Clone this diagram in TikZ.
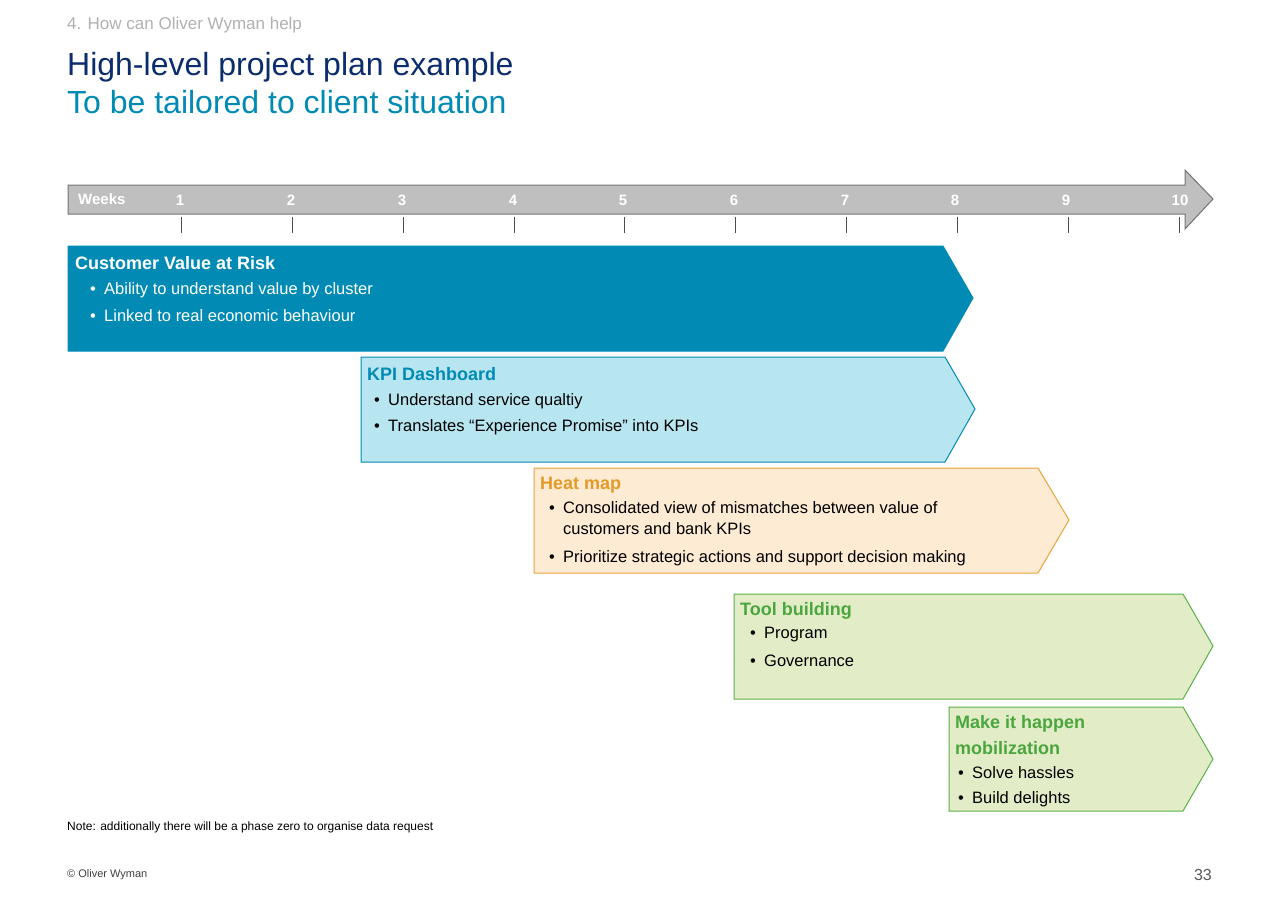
\documentclass[tikz,border=0pt]{standalone}
\usepackage{fontspec}
\setmainfont{Liberation Sans}
\begin{document}
\begin{tikzpicture}[x=1pt,y=-1pt,
  phase/.style={line width=1pt},
  ttl/.style={anchor=west,inner sep=0pt,font=\fontsize{18}{21}\selectfont\bfseries},
  bul/.style={anchor=west,inner sep=0pt,font=\fontsize{16.5}{21}\selectfont,align=left},
  wk/.style={anchor=center,inner sep=0pt,text=white,font=\fontsize{15}{17}\selectfont\bfseries},
  tick/.style={line width=0.8pt,draw=black!70}]
\definecolor{cvar}{RGB}{0,138,180}
\definecolor{kpif}{RGB}{183,230,240}
\definecolor{heatf}{RGB}{253,235,211}
\definecolor{heatd}{RGB}{232,163,58}
\definecolor{heatt}{RGB}{226,154,40}
\definecolor{toolf}{RGB}{226,237,199}
\definecolor{toold}{RGB}{91,176,74}
\definecolor{toolt}{RGB}{76,166,63}
\definecolor{dblue}{RGB}{11,45,110}
\definecolor{lgray}{RGB}{176,176,176}
\useasboundingbox (0,0) rectangle (1280,905);
% header
\node[anchor=west,inner sep=0pt,text=lgray,font=\fontsize{17}{20}\selectfont] (hdr) at (67,25) {4. How can Oliver Wyman help};
\node[anchor=west,inner sep=0pt,text=dblue,font=\fontsize{32}{36}\selectfont] (title) at (67,67) {High-level project plan example};
\node[anchor=west,inner sep=0pt,text=cvar,font=\fontsize{32}{36}\selectfont] (sub) at (67,102) {To be tailored to client situation};
% timeline
\draw[fill=black!25,draw=black!55,line width=1pt] (68,185) -- (1185,185) -- (1185,170) -- (1213,199) -- (1185,229) -- (1185,214) -- (68,214) -- cycle;
\node[wk,anchor=west] (weeks) at (78,199) {Weeks};
\foreach \n/\x/\t in {1/180/181,2/291/292,3/402/403,4/513/514,5/623/624,6/734/735,7/845/846,8/955/957,9/1066/1068,10/1180/1179}{
  \node[wk] (w\n) at (\x,200) {\n};
  \draw[tick] (\t,217) -- (\t,233);
}
% phase 1
\draw[phase,fill=cvar,draw=cvar] (68,246) -- (943,246) -- (973,298) -- (943,351) -- (68,351) -- cycle;
\node[ttl,text=white] (p1) at (75,263) {Customer Value at Risk};
\node[bul,text=white] (p1a) at (90,290) {•\enspace Ability to understand value by cluster};
\node[bul,text=white] (p1b) at (90,316) {•\enspace Linked to real economic behaviour};
% phase 2
\draw[phase,fill=kpif,draw=cvar] (361,357) -- (945,357) -- (975,409) -- (945,462) -- (361,462) -- cycle;
\node[ttl,text=cvar] (p2) at (367,374) {KPI Dashboard};
\node[bul] (p2a) at (374,401) {•\enspace Understand service qualtiy};
\node[bul] (p2b) at (374,427) {•\enspace Translates “Experience Promise” into KPIs};
% phase 3
\draw[phase,fill=heatf,draw=heatd] (534,468) -- (1038,468) -- (1069,520) -- (1038,573) -- (534,573) -- cycle;
\node[ttl,text=heatt] (p3) at (540,485) {Heat map};
\node[bul,anchor=north west] (p3a) at (549,501) {•\enspace Consolidated view of mismatches between value of\\\phantom{•\enspace}customers and bank KPIs};
\node[bul] (p3b) at (549,558) {•\enspace Prioritize strategic actions and support decision making};
% phase 4
\draw[phase,fill=toolf,draw=toold] (734,594) -- (1183,594) -- (1213,646) -- (1183,699) -- (734,699) -- cycle;
\node[ttl,text=toolt] (p4) at (740,611) {Tool building};
\node[bul] (p4a) at (750,635) {•\enspace Program};
\node[bul] (p4b) at (750,661) {•\enspace Governance};
% phase 5
\draw[phase,fill=toolf,draw=toold] (949,707) -- (1183,707) -- (1213,759) -- (1183,811) -- (949,811) -- cycle;
\node[ttl,text=toolt] (p5) at (955,724) {Make it happen};
\node[ttl,text=toolt] (p5b) at (955,748) {mobilization};
\node[bul] (p5c) at (958,773) {•\enspace Solve hassles};
\node[bul] (p5d) at (958,799) {•\enspace Build delights};
% footer
\node[anchor=west,inner sep=0pt,font=\fontsize{12}{14}\selectfont] (note) at (67,827) {Note: additionally there will be a phase zero to organise data request};
\node[anchor=west,inner sep=0pt,text=black!75,font=\fontsize{11}{13}\selectfont] (copy) at (67,875) {© Oliver Wyman};
\node[anchor=east,inner sep=0pt,text=black!65,font=\fontsize{16}{18}\selectfont] (pg) at (1212,875) {33};
\end{tikzpicture}
\end{document}
